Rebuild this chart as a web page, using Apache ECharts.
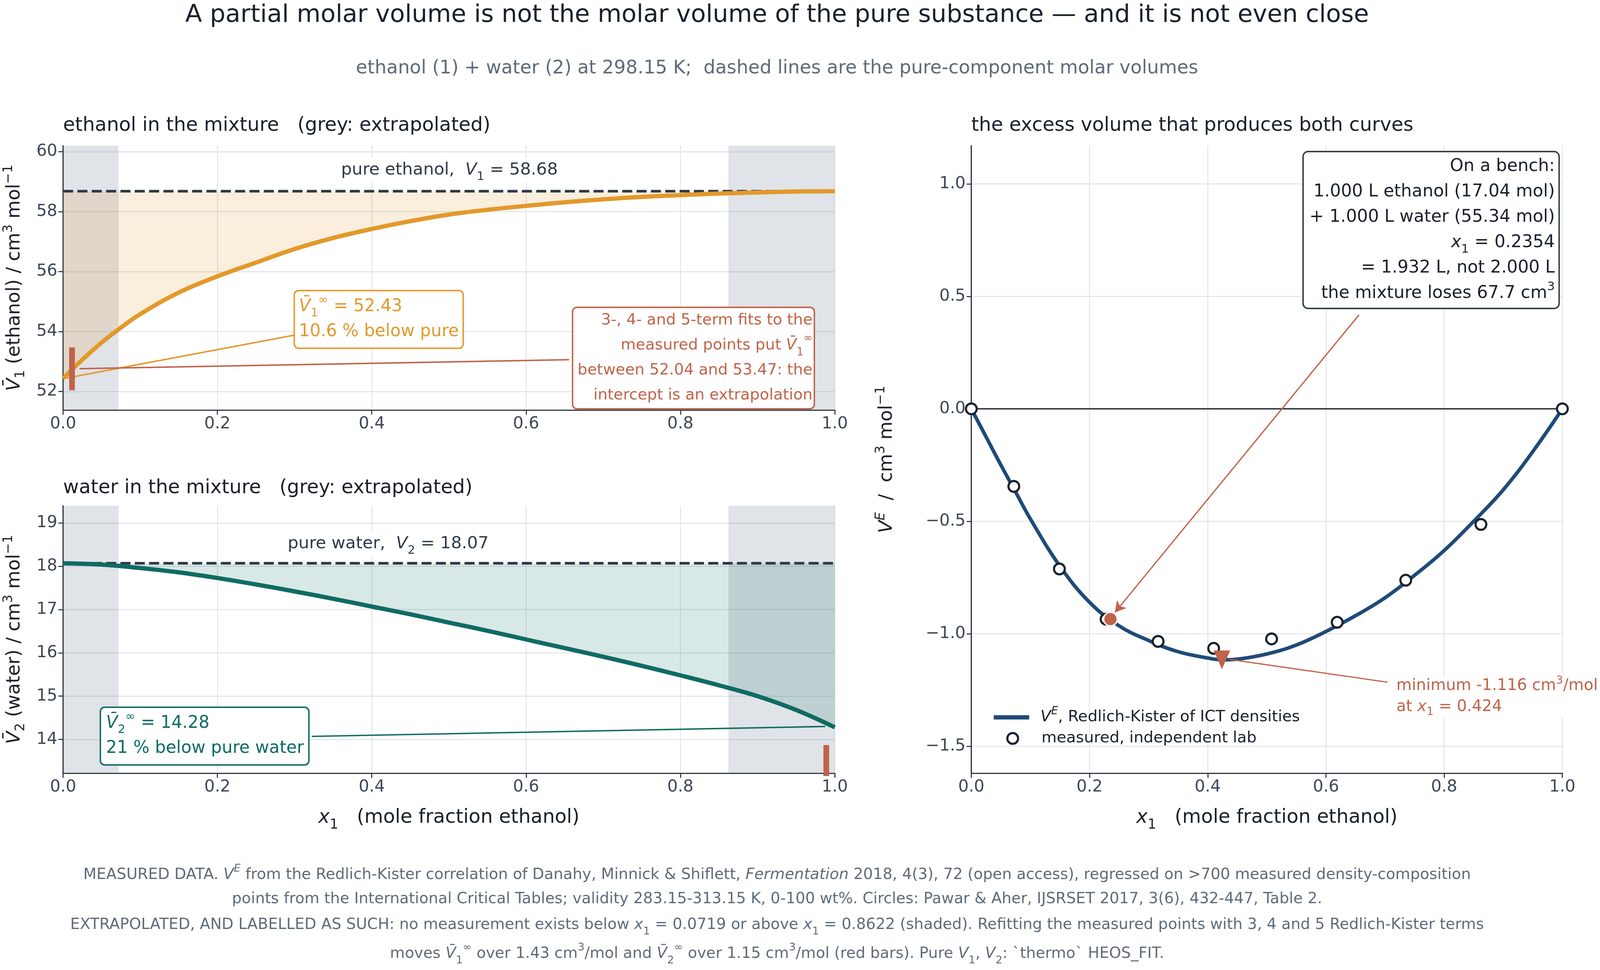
<!DOCTYPE html>
<html>
<head>
<meta charset="utf-8">
<script src="https://cdn.jsdelivr.net/npm/echarts@6/dist/echarts.min.js"></script>
<style>
html, body { margin: 0; padding: 0; background: #fff; overflow: hidden; }
#main { width: 100vw; height: 100vh; }
</style>
</head>
<body>
<div id="main"></div>
<script>
// ethanol (1) + water (2), 298.15 K
var X_V1 = [0, 0.025, 0.05, 0.075, 0.1, 0.15, 0.2, 0.25, 0.3, 0.35, 0.4, 0.45, 0.5, 0.55, 0.6, 0.65, 0.7, 0.75, 0.8, 0.85, 0.9, 0.95, 1.0];
var V1_PARTIAL = [52.43, 53.06, 53.63, 54.13, 54.58, 55.30, 55.84, 56.30, 56.75, 57.12, 57.42, 57.68, 57.90, 58.06, 58.19, 58.31, 58.41, 58.49, 58.55, 58.60, 58.64, 58.67, 58.68];

var X_V2 = [0, 0.05, 0.1, 0.15, 0.2, 0.25, 0.3, 0.35, 0.4, 0.45, 0.5, 0.55, 0.6, 0.65, 0.7, 0.75, 0.8, 0.85, 0.9, 0.95, 1.0];
var V2_PARTIAL = [18.07, 18.04, 17.96, 17.86, 17.73, 17.58, 17.42, 17.25, 17.07, 16.89, 16.70, 16.51, 16.31, 16.11, 15.91, 15.70, 15.48, 15.25, 15.00, 14.68, 14.28];

var X_VE = [0, 0.025, 0.05, 0.075, 0.1, 0.15, 0.2, 0.25, 0.3, 0.35, 0.4, 0.424, 0.45, 0.5, 0.55, 0.6, 0.65, 0.7, 0.75, 0.8, 0.85, 0.9, 0.95, 1.0];
var VE_FIT = [0, -0.125, -0.25, -0.37, -0.49, -0.70, -0.86, -0.965, -1.03, -1.08, -1.108, -1.116, -1.113, -1.09, -1.05, -0.99, -0.92, -0.84, -0.74, -0.63, -0.50, -0.36, -0.19, 0];

var X_MEAS = [0, 0.0719, 0.149, 0.228, 0.316, 0.410, 0.508, 0.619, 0.735, 0.8622, 1.0];
var VE_MEAS = [0, -0.345, -0.712, -0.935, -1.034, -1.065, -1.023, -0.949, -0.762, -0.514, 0];

var PURE_V1 = 58.68;
var PURE_V2 = 18.07;
var X_LO = 0.0719, X_HI = 0.8622;
var V1_FIT_SPREAD = [0.0116, 52.04, 53.47];
var V2_FIT_SPREAD = [0.989, 12.72, 13.87];
var BENCH = [0.2354, -0.935];
var VE_MINIMUM = [0.424, -1.116];

// annotation leader lines (data units)
var LEAD_V1 = [[0.003, 52.44], [0.30, 53.88]];
var LEAD_FITS = [[0.022, 52.76], [0.655, 53.06]];
var LEAD_V2 = [[0.323, 14.07], [0.987, 14.30]];
var LEAD_BENCH = [[0.656, 0.418], [0.243, -0.905]];
var LEAD_MIN = [[0.437, -1.114], [0.703, -1.215]];

var FONT = 'DejaVu Sans';
var INK = '#1a202c', DARK = '#2e3a48', TICK = '#3d4757', MUTED = '#5f6b7a', GRID = '#dfe3e8';
var ORANGE = '#e2992c', TEAL = '#0f6b63', NAVY = '#1f4b78', RED = '#c0634a';
var BAND = 'rgba(100,116,139,0.2)';

// layout is measured on a 4464 x 2484 canvas and scaled to the real viewport
var el = document.getElementById('main');
var W = el.clientWidth, H = el.clientHeight;
var SX = W / 4464, SY = H / 2484, SF = Math.min(SX, SY);
function px(v) { return v * SX; }
function py(v) { return v * SY; }
function f(v) { return v * SF; }

function pairs(xs, ys) {
	return xs.map(function(x, i) { return [x, ys[i]]; });
}

function rs(fs, lh, color) {
	var sm = fs * 0.7, slh = lh * 0.6;
	return {
		n: { fontSize: fs, lineHeight: lh, fill: color, color: color, fontFamily: FONT },
		i: { fontSize: fs, lineHeight: lh, fontStyle: 'italic', fill: color, color: color, fontFamily: FONT },
		sub: { fontSize: sm, lineHeight: slh, verticalAlign: 'bottom', fill: color, color: color, fontFamily: FONT },
		sup: { fontSize: sm, lineHeight: slh, verticalAlign: 'top', fill: color, color: color, fontFamily: FONT },
		supi: { fontSize: sm, lineHeight: slh, verticalAlign: 'top', fontStyle: 'italic', fill: color, color: color, fontFamily: FONT }
	};
}

function txt(x, y, content, fs, color, align, valign, lh, extra) {
	fs = f(fs);
	lh = lh ? py(lh) : fs * 1.4;
	var st = {
		text: content, x: px(x), y: py(y), fontSize: fs, fontFamily: FONT, fill: color, lineHeight: lh,
		align: align, verticalAlign: valign, textAlign: align, textVerticalAlign: valign,
		rich: rs(fs, lh, color)
	};
	if (extra) for (var k in extra) st[k] = extra[k];
	return { type: 'text', z: 100, style: st };
}

function boxed(color, pad, r) {
	return {
		backgroundColor: '#ffffff', borderColor: color, borderWidth: f(4), borderRadius: f(r || 10),
		padding: [py(pad[0]), px(pad[1]), py(pad[2]), px(pad[3])]
	};
}

function xAx(gi, named) {
	return {
		type: 'value', gridIndex: gi, min: 0, max: 1, interval: 0.2,
		axisLine: { show: true, onZero: false, lineStyle: { color: DARK, width: f(3.5) } },
		axisTick: { show: true, length: f(13), lineStyle: { color: DARK, width: f(3) } },
		axisLabel: { fontSize: f(46), color: TICK, margin: f(16), fontFamily: FONT, formatter: function(v) { return v.toFixed(1); } },
		splitLine: { show: true, lineStyle: { color: GRID, width: f(2.5) } },
		name: named ? '{i|x}{sub|1}   (mole fraction ethanol)' : '',
		nameLocation: 'middle', nameGap: py(78), nameMoveOverlap: false,
		nameTextStyle: { fontSize: f(54), color: INK, fontFamily: FONT, lineHeight: py(72), rich: rs(f(54), py(72), INK) }
	};
}

function yAx(gi, min, max, fmt, name, gap) {
	return {
		type: 'value', gridIndex: gi, min: min, max: max,
		axisLine: { show: true, onZero: false, lineStyle: { color: DARK, width: f(3.5) } },
		axisTick: { show: true, length: f(13), lineStyle: { color: DARK, width: f(3) } },
		axisLabel: { fontSize: f(46), color: TICK, margin: f(16), fontFamily: FONT, showMinLabel: false, showMaxLabel: false, formatter: fmt },
		splitLine: { show: true, showMinLine: false, showMaxLine: false, lineStyle: { color: GRID, width: f(2.5) } },
		name: name, nameLocation: 'middle', nameGap: px(gap), nameMoveOverlap: false,
		nameTextStyle: { fontSize: f(52), color: INK, fontFamily: FONT, lineHeight: f(70), rich: rs(f(52), f(70), INK) }
	};
}

function lead(gi, pts, color, w) {
	return {
		type: 'line', xAxisIndex: gi, yAxisIndex: gi, data: pts, symbol: 'none', silent: true, z: 6,
		lineStyle: { color: color, width: f(w), cap: 'round' }
	};
}

function bandHost(gi, y) {
	return {
		type: 'line', xAxisIndex: gi, yAxisIndex: gi, data: [[0, y]], symbol: 'none', silent: true, z: 1,
		lineStyle: { opacity: 0 },
		markArea: {
			silent: true, itemStyle: { color: BAND },
			data: [[{ xAxis: 0 }, { xAxis: X_LO }], [{ xAxis: X_HI }, { xAxis: 1 }]]
		}
	};
}

// shaded region between a partial-molar curve and the pure-component level
function fillToLevel(gi, xs, ys, level, color) {
	return {
		type: 'custom', xAxisIndex: gi, yAxisIndex: gi, silent: true, z: 2, clip: true,
		data: [[xs[0], level]],
		renderItem: function(params, api) {
			var pts = xs.map(function(x, i) { return api.coord([x, ys[i]]); });
			pts.push(api.coord([xs[xs.length - 1], level]));
			pts.push(api.coord([xs[0], level]));
			return { type: 'polygon', shape: { points: pts }, style: { fill: color } };
		}
	};
}

function pureLine(gi, level) {
	return {
		type: 'line', xAxisIndex: gi, yAxisIndex: gi, symbol: 'none', silent: true, z: 3,
		data: [[0, level], [1, level]], lineStyle: { color: DARK, width: f(7.5), type: [f(28), f(12)], cap: 'butt' }
	};
}

var intFmt = function(v) { return v.toFixed(0); };
var veFmt = function(v) { return v.toFixed(1).replace('-', '\u2212'); };

var myChart = echarts.init(el);

myChart.setOption({
	animation: false,
	backgroundColor: '#ffffff',
	textStyle: { fontFamily: FONT },
	grid: [
		{ left: px(176), top: py(373), width: px(2153), height: py(677), outerBoundsMode: 'none' },
		{ left: px(176), top: py(1295), width: px(2153), height: py(685), outerBoundsMode: 'none' },
		{ left: px(2710), top: py(373), width: px(1649), height: py(1607), outerBoundsMode: 'none' }
	],
	xAxis: [xAx(0, false), xAx(1, true), xAx(2, true)],
	yAxis: [
		yAx(0, 51.38, 60.2, intFmt, '{i|V\u0304}{sub|1} (ethanol) / cm{sup|3} mol{sup|\u22121}', 100),
		yAx(1, 13.22, 19.4, intFmt, '{i|V\u0304}{sub|2} (water) / cm{sup|3} mol{sup|\u22121}', 100),
		yAx(2, -1.62, 1.17, veFmt, '{i|V}{supi|E}  /  cm{sup|3} mol{sup|\u22121}', 200)
	],
	legend: [
		{
			data: [{ name: 'VE', icon: 'rect', itemStyle: { color: NAVY } }],
			left: px(2767), top: py(1803), orient: 'vertical', selectedMode: false,
			itemWidth: px(99), itemHeight: f(12),
			lineStyle: { color: NAVY, width: f(12) },
			formatter: function() { return '{i|V}{supi|E}, Redlich-Kister of ICT densities'; },
			textStyle: { fontSize: f(43.5), color: INK, fontFamily: FONT, padding: [0, 0, 0, px(26)], lineHeight: py(58), rich: rs(f(43.5), py(58), INK) }
		},
		{
			data: [{ name: 'measured', icon: 'circle', itemStyle: { color: '#ffffff', borderColor: INK, borderWidth: f(6) } }],
			left: px(2802), top: py(1866), orient: 'vertical', selectedMode: false,
			itemWidth: f(30), itemHeight: f(30),
			formatter: function() { return 'measured, independent lab'; },
			textStyle: { fontSize: f(43.5), color: INK, fontFamily: FONT, padding: [0, 0, 0, px(60)] }
		}
	],
	series: [
		// ---- top-left: ethanol
		bandHost(0, PURE_V1),
		fillToLevel(0, X_V1, V1_PARTIAL, PURE_V1, 'rgba(227,154,45,0.17)'),
		pureLine(0, PURE_V1),
		{
			type: 'line', xAxisIndex: 0, yAxisIndex: 0, symbol: 'none', smooth: 0.4, z: 4,
			data: pairs(X_V1, V1_PARTIAL), lineStyle: { color: ORANGE, width: f(12) }
		},
		lead(0, LEAD_V1, ORANGE, 4),
		lead(0, LEAD_FITS, RED, 4),
		{
			type: 'line', xAxisIndex: 0, yAxisIndex: 0, symbol: 'none', silent: true, z: 7,
			data: [[V1_FIT_SPREAD[0], V1_FIT_SPREAD[1]], [V1_FIT_SPREAD[0], V1_FIT_SPREAD[2]]],
			lineStyle: { color: RED, width: px(16), cap: 'butt' }
		},
		// ---- bottom-left: water
		bandHost(1, PURE_V2),
		fillToLevel(1, X_V2, V2_PARTIAL, PURE_V2, 'rgba(15,110,102,0.16)'),
		pureLine(1, PURE_V2),
		{
			type: 'line', xAxisIndex: 1, yAxisIndex: 1, symbol: 'none', smooth: 0.4, z: 4,
			data: pairs(X_V2, V2_PARTIAL), lineStyle: { color: TEAL, width: f(12) }
		},
		lead(1, LEAD_V2, TEAL, 4),
		{
			type: 'line', xAxisIndex: 1, yAxisIndex: 1, symbol: 'none', silent: true, z: 7, clip: true,
			data: [[V2_FIT_SPREAD[0], V2_FIT_SPREAD[1]], [V2_FIT_SPREAD[0], V2_FIT_SPREAD[2]]],
			lineStyle: { color: RED, width: px(16), cap: 'butt' }
		},
		// ---- right: excess volume
		{
			type: 'line', xAxisIndex: 2, yAxisIndex: 2, symbol: 'none', silent: true, z: 2,
			data: [[0, 0], [1, 0]], lineStyle: { color: DARK, width: f(4) }
		},
		{
			name: 'VE', type: 'line', xAxisIndex: 2, yAxisIndex: 2, symbol: 'none', smooth: 0.4, z: 3,
			data: pairs(X_VE, VE_FIT), lineStyle: { color: NAVY, width: f(10) }, itemStyle: { color: NAVY }
		},
		lead(2, LEAD_MIN, RED, 3.5),
		{
			type: 'line', xAxisIndex: 2, yAxisIndex: 2, data: [], symbol: 'none', silent: true, z: 6,
			markLine: {
				silent: true, symbol: ['none', 'arrow'], symbolSize: [f(26), f(30)],
				lineStyle: { color: RED, width: f(3.5), type: 'solid' }, label: { show: false },
				data: [[{ coord: LEAD_BENCH[0] }, { coord: LEAD_BENCH[1] }]]
			}
		},
		{
			name: 'measured', type: 'scatter', xAxisIndex: 2, yAxisIndex: 2, symbol: 'circle', symbolSize: f(30), z: 5,
			data: pairs(X_MEAS, VE_MEAS), itemStyle: { color: '#ffffff', borderColor: INK, borderWidth: f(6), opacity: 1 }
		},
		{
			type: 'scatter', xAxisIndex: 2, yAxisIndex: 2, symbol: 'circle', symbolSize: f(38), z: 7, silent: true,
			data: [BENCH], itemStyle: { color: RED, borderColor: '#ffffff', borderWidth: f(4), opacity: 1 }
		},
		{
			type: 'scatter', xAxisIndex: 2, yAxisIndex: 2, symbol: 'triangle', symbolRotate: 180, symbolSize: [f(46), py(48)], z: 7, silent: true,
			data: [VE_MINIMUM], itemStyle: { color: RED, opacity: 1 }
		}
	],
	graphic: [
		txt(2168, 40, 'A partial molar volume is not the molar volume of the pure substance \u2014 and it is not even close', 68.5, INK, 'center', 'middle'),
		txt(2168, 176, 'ethanol (1) + water (2) at 298.15 K;  dashed lines are the pure-component molar volumes', 52, MUTED, 'center', 'middle'),
		txt(176, 322, 'ethanol in the mixture   (grey: extrapolated)', 54, INK, 'left', 'middle'),
		txt(176, 1250, 'water in the mixture   (grey: extrapolated)', 54, INK, 'left', 'middle'),
		txt(2710, 322, 'the excess volume that produces both curves', 54, INK, 'left', 'middle'),

		txt(1254, 436, 'pure ethanol,  {i|V}{sub|1} = 58.68', 47.3, DARK, 'center', 'middle', 64, { backgroundColor: '#ffffff', padding: [0, px(8), 0, px(8)] }),
		txt(1083, 1393, 'pure water,  {i|V}{sub|2} = 18.07', 47.3, DARK, 'center', 'middle', 64, { backgroundColor: '#ffffff', padding: [0, px(8), 0, px(8)] }),

		txt(823, 746, '{i|V\u0304}{sub|1}{sup|\u221e} = 52.43\n10.6 % below pure', 47.7, ORANGE, 'left', 'top', 64, boxed(ORANGE, [8, 10, 8, 11])),
		txt(2270, 789, '3-, 4- and 5-term fits to the\nmeasured points put {i|V\u0304}{sub|1}{sup|\u221e}\nbetween 52.04 and 53.47: the\nintercept is an extrapolation', 43.2, RED, 'right', 'top', 64, boxed(RED, [0, 3, 0, 12])),
		txt(282, 1813, '{i|V\u0304}{sub|2}{sup|\u221e} = 14.28\n21 % below pure water', 47.7, TEAL, 'left', 'top', 64, boxed(TEAL, [8, 12, 8, 14])),

		txt(4348, 390, 'On a bench:\n1.000 L ethanol (17.04 mol)\n+ 1.000 L water (55.34 mol)\n{i|x}{sub|1} = 0.2354\n= 1.932 L, not 2.000 L\nthe mixture loses 67.7 cm{sup|3}', 48.2, INK, 'right', 'top', 65, boxed(DARK, [4, 10, 4, 16], 12)),
		txt(3892, 1730, 'minimum -1.116 cm{sup|3}/mol\nat {i|x}{sub|1} = 0.424', 44, RED, 'left', 'top', 54, { backgroundColor: '#ffffff', padding: [0, px(4), 0, px(4)] }),

		txt(2168, 2241, 'MEASURED DATA. {i|V}{supi|E} from the Redlich-Kister correlation of Danahy, Minnick & Shiflett, {i|Fermentation} 2018, 4(3), 72 (open access), regressed on >700 measured density-composition', 42.7, MUTED, 'center', 'middle', 60),
		txt(2168, 2303, 'points from the International Critical Tables; validity 283.15-313.15 K, 0-100 wt%. Circles: Pawar & Aher, IJSRSET 2017, 3(6), 432-447, Table 2.', 42.7, MUTED, 'center', 'middle', 60),
		txt(2168, 2369, 'EXTRAPOLATED, AND LABELLED AS SUCH: no measurement exists below {i|x}{sub|1} = 0.0719 or above {i|x}{sub|1} = 0.8622 (shaded). Refitting the measured points with 3, 4 and 5 Redlich-Kister terms', 42.7, MUTED, 'center', 'middle', 60),
		txt(2168, 2443, 'moves {i|V\u0304}{sub|1}{sup|\u221e} over 1.43 cm{sup|3}/mol and {i|V\u0304}{sub|2}{sup|\u221e} over 1.15 cm{sup|3}/mol (red bars). Pure {i|V}{sub|1}, {i|V}{sub|2}: `thermo` HEOS_FIT.', 42.7, MUTED, 'center', 'middle', 60)
	]
});
</script>
</body>
</html>
